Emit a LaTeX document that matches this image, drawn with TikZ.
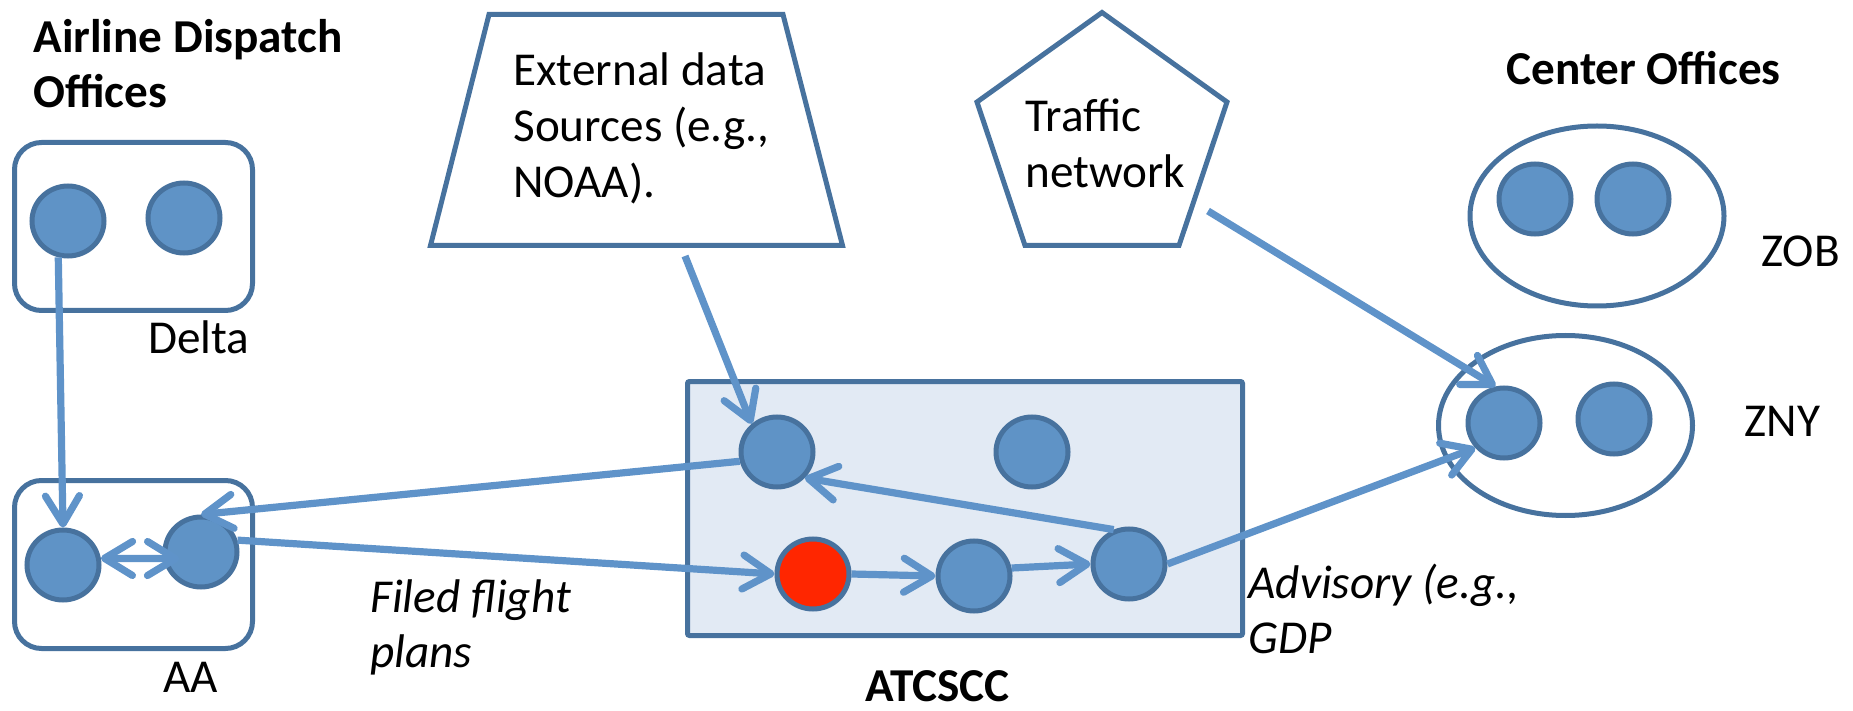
\documentclass[tikz,border=0pt]{standalone}
\usepackage{fontspec}
\setmainfont{Carlito}
\usetikzlibrary{arrows.meta,shapes.geometric}
\definecolor{nodefill}{HTML}{5F93C6}
\definecolor{nodeline}{HTML}{47729E}
\definecolor{flowcol}{HTML}{5F93C9}
\definecolor{centerfill}{HTML}{E2EAF4}
\definecolor{alertred}{HTML}{FF2600}
\tikzset{
  basefont/.style={font=\fontsize{23.6}{28}\selectfont},
  txt/.style={basefont, anchor=base west, inner sep=0pt, align=left, text=black},
  boldtxt/.style={txt, font=\fontsize{23.6}{27.5}\selectfont\bfseries},
  ittxt/.style={txt, font=\fontsize{23.6}{27.5}\selectfont\itshape},
  station/.style={ellipse, draw=nodeline, fill=nodefill, line width=2.5pt,
    minimum width=36pt, minimum height=35pt, inner sep=0pt},
  office/.style={draw=nodeline, line width=2.5pt, rounded corners=13.5pt,
    minimum width=119pt, minimum height=84pt, inner sep=0pt},
  centeroval/.style={ellipse, draw=nodeline, line width=2.5pt,
    minimum width=127pt, minimum height=90pt, inner sep=0pt},
  outline/.style={draw=nodeline, line width=2.5pt, line join=miter},
  barb/.tip={Straight Barb[length=14pt,width=17pt,round]},
  flow/.style={draw=flowcol, line width=3.6pt, -barb},
  flowboth/.style={draw=flowcol, line width=3.6pt, barb-barb},
}
\begin{document}
\begin{tikzpicture}[x=0.5pt,y=-0.5pt]
\useasboundingbox (0,0) rectangle (1853,711);

% airline offices
\node[office] (delta) at (133.5,226.5) {};
\node[office] (aa) at (133.5,564.5) {};
\node[station] (d1) at (68,221) {};
\node[station] (d2) at (184,218) {};
\node[station] (a1) at (63,565) {};
\node[station] (a2) at (201,552) {};

% command center
\node[draw=nodeline, fill=centerfill, line width=2.5pt, rounded corners=1pt,
  minimum width=277.5pt, minimum height=127pt, inner sep=0pt] (atcscc) at (965,508.5) {};
\node[station] (ta) at (777,452) {};
\node[station] (tb) at (1032,452) {};
\node[station, fill=alertred] (r) at (813,574) {};
\node[station] (c) at (974,576) {};
\node[station] (d) at (1129,564) {};

% center offices
\node[centeroval] (zob) at (1597,216) {};
\node[centeroval] (zny) at (1565.5,425.5) {};
\node[station] (zb1) at (1535,199) {};
\node[station] (zb2) at (1633,199) {};
\node[station] (z1) at (1504,423) {};
\node[station] (z2) at (1614,419) {};

% external data sources and traffic network
\draw[outline] (489,14.5) -- (783,14.5) -- (842.5,245.5) -- (430.5,245.5) -- cycle;
\draw[outline] (1102,12.5) -- (1227,102) -- (1179,245.5) -- (1025,245.5) -- (977,102) -- cycle;
\coordinate (extout) at (685,256);
\coordinate (netout) at (1208,211);

% labels (multi-line labels are placed by the baseline of their last line)
\node[boldtxt] (ttlair) at (33,108) {Airline Dispatch\\Offices};
\node[txt] (lbldelta) at (148,353) {Delta};
\node[txt] (lblaa) at (163,692) {AA};
\node[txt] (lblext) at (513,198) {External data\\Sources (e.g.,\\NOAA).};
\node[txt] (lblnet) at (1025,188) {Traffic\\network};
\node[boldtxt] (ttlcenter) at (1506,85) {Center Offices};
\node[txt] (lblzob) at (1761,267) {ZOB};
\node[txt] (lblzny) at (1744,436) {ZNY};
\node[ittxt] (lblfiled) at (370,667) {Filed flight\\plans};
\node[ittxt] (lbladv) at (1248,653) {Advisory (e.g.,\\GDP};
\node[boldtxt] (lblatc) at (865,701) {ATCSCC};

% information flows
\draw[flow] (d1.255) -- (a1.north);
\draw[flowboth] (a1.10) -- ([xshift=8pt]a2.190);
\draw[flow] (ta.194) -- (a2.north);
\draw[flow] (a2.18) -- (r.west);
\draw[flow] (extout) -- (ta.132);
\draw[flow] (d.114) -- (ta.317);
\draw[flow] (r.east) -- (c.west);
\draw[flow] (c.12) -- (d.west);
\draw[flow] (d.east) -- (z1.221);
\draw[flow] (netout) -- (z1.103);
\end{tikzpicture}
\end{document}
